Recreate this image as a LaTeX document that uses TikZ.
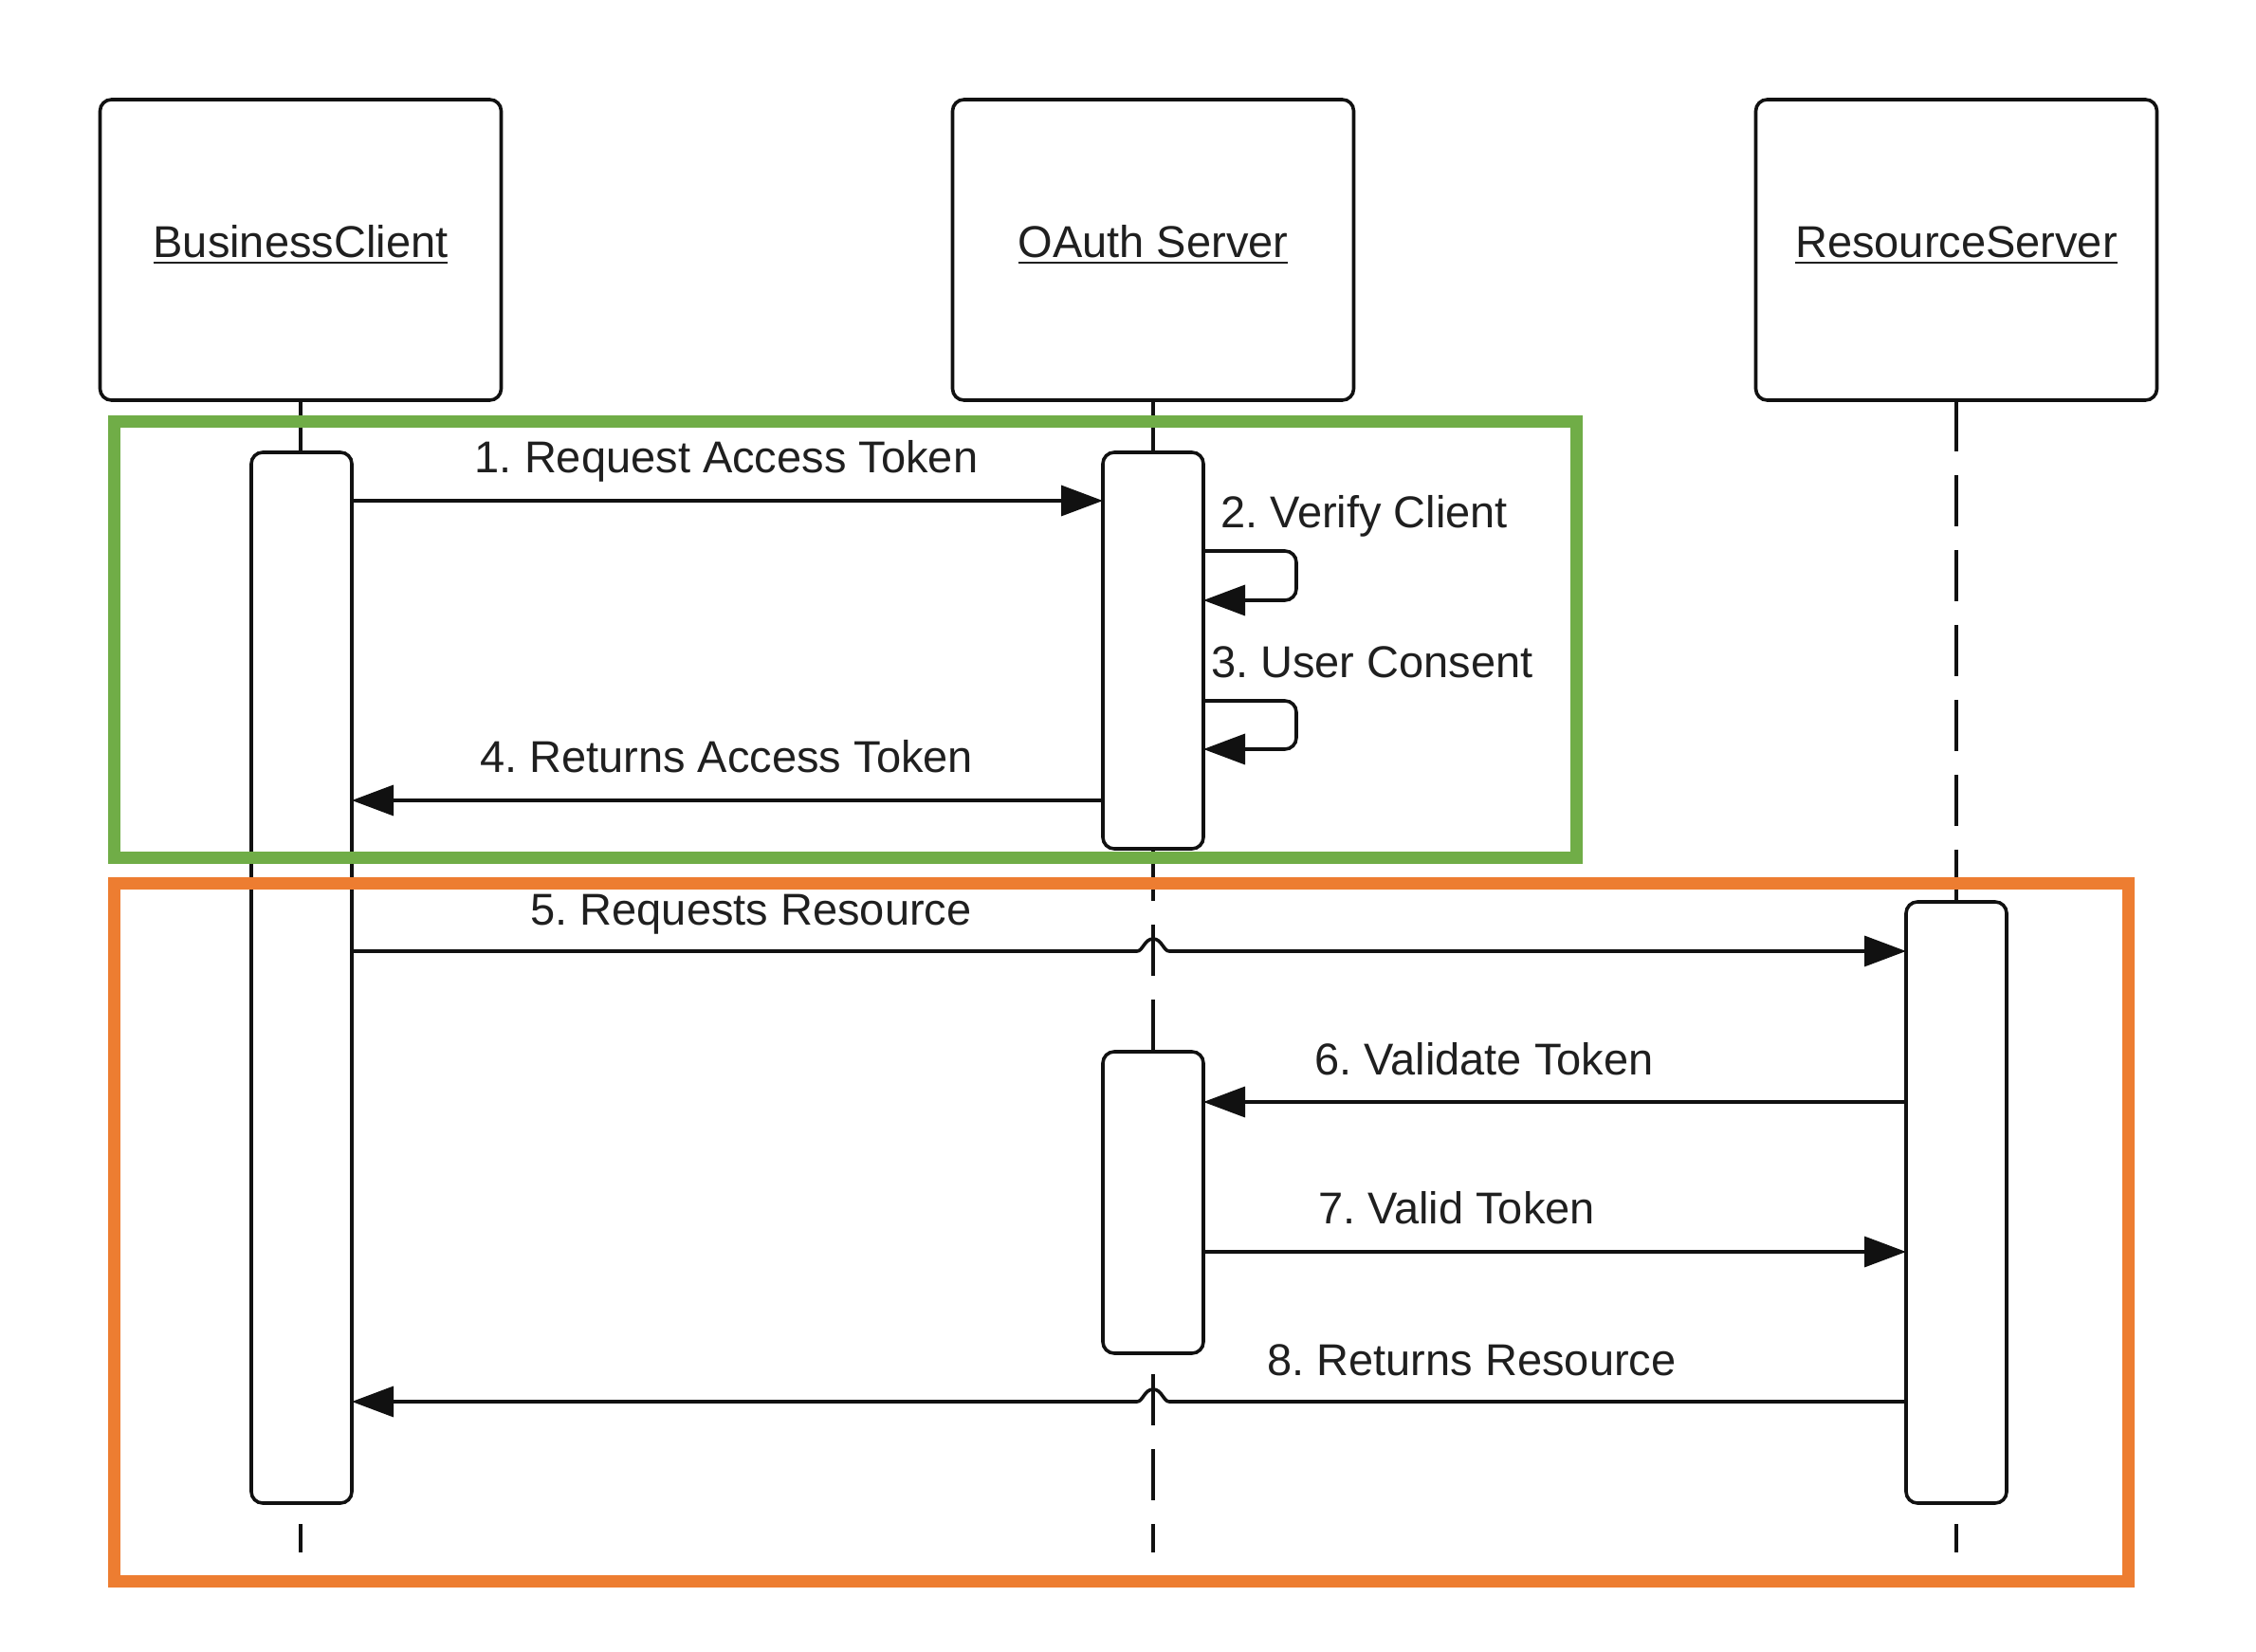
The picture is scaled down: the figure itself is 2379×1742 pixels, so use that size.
\documentclass[tikz,border=0pt]{standalone}
\usepackage{fontspec}
\setmainfont{Liberation Sans}
\usetikzlibrary{arrows.meta,calc}
\definecolor{boxgreen}{HTML}{70AD47}
\definecolor{boxorange}{HTML}{ED7D31}
\definecolor{ink}{HTML}{111111}
\definecolor{txtink}{HTML}{1F1F1F}
\newcommand\myul[1]{\setbox0\hbox{#1}\rlap{\raisebox{-1.6pt}{\rule{\wd0}{0.7pt}}}\box0}
\frenchspacing
\begin{document}
\begin{tikzpicture}[x=0.25pt,y=-0.25pt,
  every node/.style={inner sep=0pt,outer sep=0pt},
  txt/.style={font=\fontsize{11.75pt}{14pt}\selectfont\frenchspacing,text=txtink},
  actor/.style={draw=ink,line width=0.9pt,rounded corners=3pt,fill=white,minimum width=105.75pt,minimum height=79.25pt},
  actbar/.style={draw=ink,line width=0.9pt,rounded corners=3pt,fill=white,minimum width=26.5pt},
  lifeline/.style={draw=ink,line width=0.9pt,dash pattern=on 13.5pt off 6.25pt},
  msg/.style={draw=ink,line width=0.9pt,-{Triangle[length=11pt,width=8pt]}},
  frame/.style={line width=3.25pt}
]
\useasboundingbox (0,0) rectangle (2379,1742);

% actors
\node[actor] (bc) at (317,263.5) {};
\node[actor] (oa) at (1216,263.5) {};
\node[actor] (rs) at (2063,263.5) {};
\node[txt,anchor=base] (bcl) at (317,272) {\myul{BusinessClient}};
\node[txt,anchor=base] (oal) at (1216,272) {\myul{OAuth Server}};
\node[txt,anchor=base] (rsl) at (2063,272) {\myul{ResourceServer}};

% lifelines
\coordinate (bcend) at ($(bc.south)+(0,1215)$);
\coordinate (oaend) at ($(oa.south)+(0,1215)$);
\coordinate (rsend) at ($(rs.south)+(0,1215)$);
\draw[lifeline] (bc.south) -- (bcend);
\draw[lifeline] (oa.south) -- (oaend);
\draw[lifeline] (rs.south) -- (rsend);

% activation bars
\node[actbar,minimum height=277pt] (bca) at (318,1031) {};
\node[actbar,minimum height=104.5pt] (oa1) at (1216,686) {};
\node[actbar,minimum height=79.5pt] (oa2) at (1216,1268) {};
\node[actbar,minimum height=158.5pt] (rsa) at (2063,1268) {};

% message levels
\coordinate (y1) at (0,528);
\coordinate (s2) at (1367,581);
\coordinate (s2b) at (1367,633);
\coordinate (s3) at (1367,739);
\coordinate (s3b) at (1367,790);
\coordinate (y4) at (0,844);
\coordinate (y5) at (0,1003);
\coordinate (y6) at (0,1162);
\coordinate (y7) at (0,1320);
\coordinate (y8) at (0,1478);

% messages
\draw[msg] (bca.east |- y1) -- (oa1.west |- y1);
\draw[msg,rounded corners=3pt] (oa1.east |- s2) -- (s2) -- (s2b) -- (oa1.east |- s2b);
\draw[msg,rounded corners=3pt] (oa1.east |- s3) -- (s3) -- (s3b) -- (oa1.east |- s3b);
\draw[msg] (oa1.west |- y4) -- (bca.east |- y4);
\draw[msg] (bca.east |- y5) -- ($(oa.south |- y5)+(-17,0)$)
  .. controls +(6,0) and +(-9,0) .. ($(oa.south |- y5)+(0,-13)$)
  .. controls +(9,0) and +(-6,0) .. ($(oa.south |- y5)+(17,0)$)
  -- (rsa.west |- y5);
\draw[msg] (rsa.west |- y6) -- (oa2.east |- y6);
\draw[msg] (oa2.east |- y7) -- (rsa.west |- y7);
\draw[msg] (rsa.west |- y8) -- ($(oa.south |- y8)+(17,0)$)
  .. controls +(-6,0) and +(9,0) .. ($(oa.south |- y8)+(0,-13)$)
  .. controls +(-9,0) and +(6,0) .. ($(oa.south |- y8)+(-17,0)$)
  -- (bca.east |- y8);

% labels
\node[txt,anchor=base] (l1) at (766,499) {1. Request Access Token};
\node[txt,anchor=base west] (l2) at (1287,557) {2. Verify Client};
\node[txt,anchor=base west] (l3) at (1277,715) {3. User Consent};
\node[txt,anchor=base] (l4) at (766,815) {4. Returns Access Token};
\node[txt,anchor=base] (l5) at (792,976) {5. Requests Resource};
\node[txt,anchor=base] (l6) at (1565,1134) {6. Validate Token};
\node[txt,anchor=base] (l7) at (1536,1291) {7. Valid Token};
\node[txt,anchor=base] (l8) at (1552,1450) {8. Returns Resource};

% frames
\draw[frame,boxgreen] (120,445) rectangle (1662,905);
\draw[frame,boxorange] (120,932) rectangle (2244,1667);
\end{tikzpicture}
\end{document}
